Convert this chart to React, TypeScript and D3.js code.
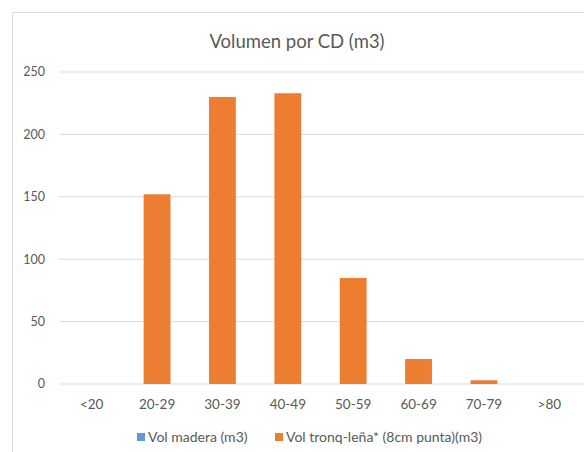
import React from "react";
import * as d3 from "d3";

// Volumen por clase diamétrica (CD), m3
const CATEGORIES = ["<20", "20-29", "30-39", "40-49", "50-59", "60-69", "70-79", ">80"];
const VOL_MADERA = [0, 0, 0, 0, 0, 0, 0, 0];
const VOL_TRONQ_LENA = [0, 152, 230, 233, 85, 20, 3, 0];
const Y_TICKS = [0, 50, 100, 150, 200, 250];

const SERIES = [
  { name: "Vol madera (m3)", color: "#5B9BD5", values: VOL_MADERA },
  { name: "Vol tronq-leña* (8cm punta)(m3)", color: "#ED7D31", values: VOL_TRONQ_LENA },
];

const W = 584;
const H = 452;
const PLOT = { left: 59, right: 582, top: 72, bottom: 384 };
const FONT = "Lato, 'Open Sans', sans-serif";
const TEXT = "#595959";
const GRID = "#d9d9d9";

export default function App() {
  const x = d3.scaleBand<string>().domain(CATEGORIES).range([PLOT.left, PLOT.right]).paddingInner(0).paddingOuter(0);
  const y = d3.scaleLinear().domain([0, 250]).range([PLOT.bottom, PLOT.top]);
  const barW = x.bandwidth() * 0.41;

  // legend items placed left to right, each swatch followed by its label
  const legendX = [137, 275];

  return (
    <div style={{ position: "absolute", left: 0, top: 0 }}>
      <svg width={W} height={H} style={{ display: "block", background: "#fff" }} fontFamily={FONT}>
        {/* chart area border (right/bottom run off the picture) */}
        <rect x={12.5} y={12.5} width={W + 20} height={H + 20} fill="#fff" stroke={GRID} />

        <text x={297} y={48} textAnchor="middle" fontSize={18.5} fill={TEXT}>
          Volumen por CD (m3)
        </text>

        {/* gridlines + y labels */}
        {Y_TICKS.map((t) => (
          <g key={t}>
            <line x1={PLOT.left} x2={PLOT.right + 10} y1={y(t)} y2={y(t)} stroke={GRID} strokeWidth={1} />
            <text x={45} y={y(t)} dy="0.35em" textAnchor="end" fontSize={12.5} fill={TEXT}>
              {t}
            </text>
          </g>
        ))}

        {/* bars: series overlapped at the category centre */}
        {SERIES.map((s) =>
          s.values.map((v, i) => {
            const c = CATEGORIES[i];
            const cx = (x(c) ?? 0) + x.bandwidth() / 2;
            return v > 0 ? (
              <rect key={s.name + c} x={cx - barW / 2} y={y(v)} width={barW} height={y(0) - y(v)} fill={s.color} />
            ) : null;
          })
        )}

        {/* x labels */}
        {CATEGORIES.map((c) => (
          <text key={c} x={(x(c) ?? 0) + x.bandwidth() / 2} y={404} dy="0.35em" textAnchor="middle" fontSize={13.5} fill={TEXT}>
            {c}
          </text>
        ))}

        {/* legend */}
        <g fontSize={14} fill={TEXT}>
          {SERIES.map((s, i) => (
            <g key={s.name}>
              <rect x={legendX[i]} y={433} width={8} height={8} fill={s.color} />
              <text x={legendX[i] + 11} y={437} dy="0.35em">{s.name}</text>
            </g>
          ))}
        </g>
      </svg>
    </div>
  );
}
